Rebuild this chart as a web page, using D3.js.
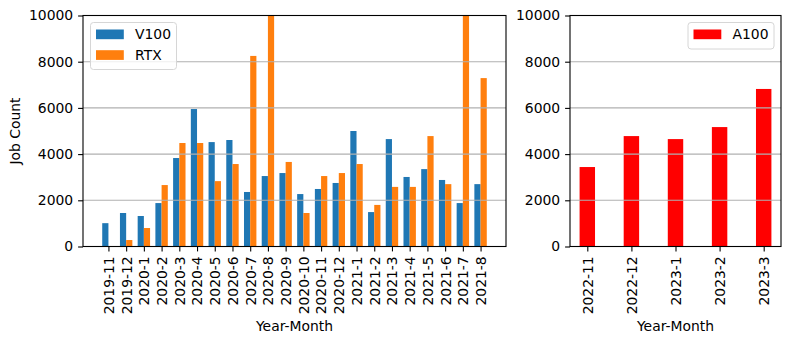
<!DOCTYPE html>
<html>
<head>
<meta charset="utf-8">
<script src="https://cdn.jsdelivr.net/npm/d3@7"></script>
<style>
  body { margin: 0; background: #fff; }
  text { font-family: "DejaVu Sans", sans-serif; font-size: 13.9px; fill: #000; }
</style>
</head>
<body>
<script>
// monthly job counts
var months1 = ["2019-11","2019-12","2020-1","2020-2","2020-3","2020-4","2020-5","2020-6",
  "2020-7","2020-8","2020-9","2020-10","2020-11","2020-12","2021-1","2021-2","2021-3",
  "2021-4","2021-5","2021-6","2021-7","2021-8"];
var v100 = [1010, 1450, 1320, 1880, 3830, 5950, 4520, 4610, 2360, 3050, 3180, 2270,
  2490, 2750, 5000, 1490, 4650, 3010, 3350, 2880, 1880, 2700];
var rtx = [0, 280, 800, 2660, 4480, 4480, 2830, 3570, 8250, 10000, 3660, 1450,
  3050, 3180, 3570, 1800, 2580, 2580, 4780, 2700, 10000, 7290];

var months2 = ["2022-11","2022-12","2023-1","2023-2","2023-3"];
var a100 = [3440, 4780, 4650, 5170, 6820];

var yTicks = [0, 2000, 4000, 6000, 8000, 10000];

var width = 790, height = 343;
var svg = d3.select("body").append("svg")
  .attr("width", width)
  .attr("height", height);

var yTop = 15.5, yBot = 246.5;
var y = d3.scaleLinear().domain([0, 10000]).range([yBot, yTop]);

function panel(x0, x1, cats, series, colors, names, barW, offsets, legendX) {
  var n = cats.length;
  // matplotlib style autoscale: 5% margin around bar extent
  var lo = -barW / 2 + d3.min(offsets), hi = n - 1 + barW / 2 + d3.max(offsets);
  var m = (hi - lo) * 0.05;
  var x = d3.scaleLinear().domain([lo - m, hi + m]).range([x0, x1]);

  var g = svg.append("g");
  g.append("clipPath").attr("id", "clip" + x0)
    .append("rect").attr("x", x0).attr("y", yTop).attr("width", x1 - x0).attr("height", yBot - yTop);

  series.forEach(function (vals, s) {
    g.append("g").attr("clip-path", "url(#clip" + x0 + ")")
      .selectAll("rect")
      .data(vals)
      .enter()
      .append("rect")
      .attr("x", function (d, i) { return x(i + offsets[s] - barW / 2); })
      .attr("width", x(barW) - x(0))
      .attr("y", function (d) { return y(Math.min(d, 10000)); })
      .attr("height", function (d) { return y(0) - y(Math.min(d, 10000)); })
      .style("fill", colors[s]);
  });

  // horizontal grid, drawn over bars like matplotlib
  g.append("g").selectAll("line")
    .data(yTicks.slice(1))
    .enter()
    .append("line")
    .attr("x1", x0).attr("x2", x1)
    .attr("y1", function (d) { return y(d); })
    .attr("y2", function (d) { return y(d); })
    .style("stroke", "#b0b0b0")
    .style("stroke-width", 1.1);

  var yAxis = d3.axisLeft(y).tickValues(yTicks).tickFormat(d3.format("d"))
    .tickSize(4.9).tickPadding(4.9);
  var ya = g.append("g").attr("transform", "translate(" + x0 + ",0)").call(yAxis);
  ya.select(".domain").remove();

  var xAxis = d3.axisBottom(x).tickValues(d3.range(n))
    .tickFormat(function (i) { return cats[i]; })
    .tickSize(4.9).tickPadding(4.9);
  var xa = g.append("g").attr("transform", "translate(0," + yBot + ")").call(xAxis);
  xa.select(".domain").remove();
  xa.selectAll("text")
    .attr("transform", "rotate(-90)")
    .attr("x", -9.8).attr("y", 0).attr("dy", "0.35em")
    .style("text-anchor", "end");

  [ya, xa].forEach(function (a) {
    a.selectAll("text").style("font-family", "DejaVu Sans").style("font-size", "13.9px").style("fill", "#000");
    a.selectAll(".tick line").style("stroke", "#000").style("stroke-width", 1.1);
  });

  g.append("rect")
    .attr("x", x0).attr("y", yTop).attr("width", x1 - x0).attr("height", yBot - yTop)
    .style("fill", "none").style("stroke", "#000").style("stroke-width", 1.1);

  g.append("text")
    .attr("x", (x0 + x1) / 2).attr("y", 331)
    .attr("text-anchor", "middle")
    .text("Year-Month");

  // legend
  var lw = 86, lh = 8 + names.length * 20.5 - 2;
  var lg = g.append("g").attr("transform", "translate(" + legendX + ",22.5)");
  lg.append("rect")
    .attr("width", lw).attr("height", lh).attr("rx", 3)
    .style("fill", "rgba(255,255,255,0.8)").style("stroke", "#d6d6d6");
  names.forEach(function (nm, i) {
    lg.append("rect")
      .attr("x", 5.5).attr("y", 7 + i * 20.7).attr("width", 27.8).attr("height", 9.7)
      .style("fill", colors[i]);
    lg.append("text")
      .attr("x", 44.5).attr("y", 12 + i * 20.7).attr("dy", "0.35em")
      .text(nm);
  });
}

panel(83, 506, months1, [v100, rtx], ["#1f77b4", "#ff7f0e"], ["V100", "RTX"], 0.35, [-0.175, 0.175], 90.5);
panel(570, 781, months2, [a100], ["#ff0000"], ["A100"], 0.35, [0], 688);

svg.append("text")
  .attr("transform", "translate(20," + (yTop + yBot) / 2 + ") rotate(-90)")
  .attr("text-anchor", "middle")
  .text("Job Count");
</script>
</body>
</html>
